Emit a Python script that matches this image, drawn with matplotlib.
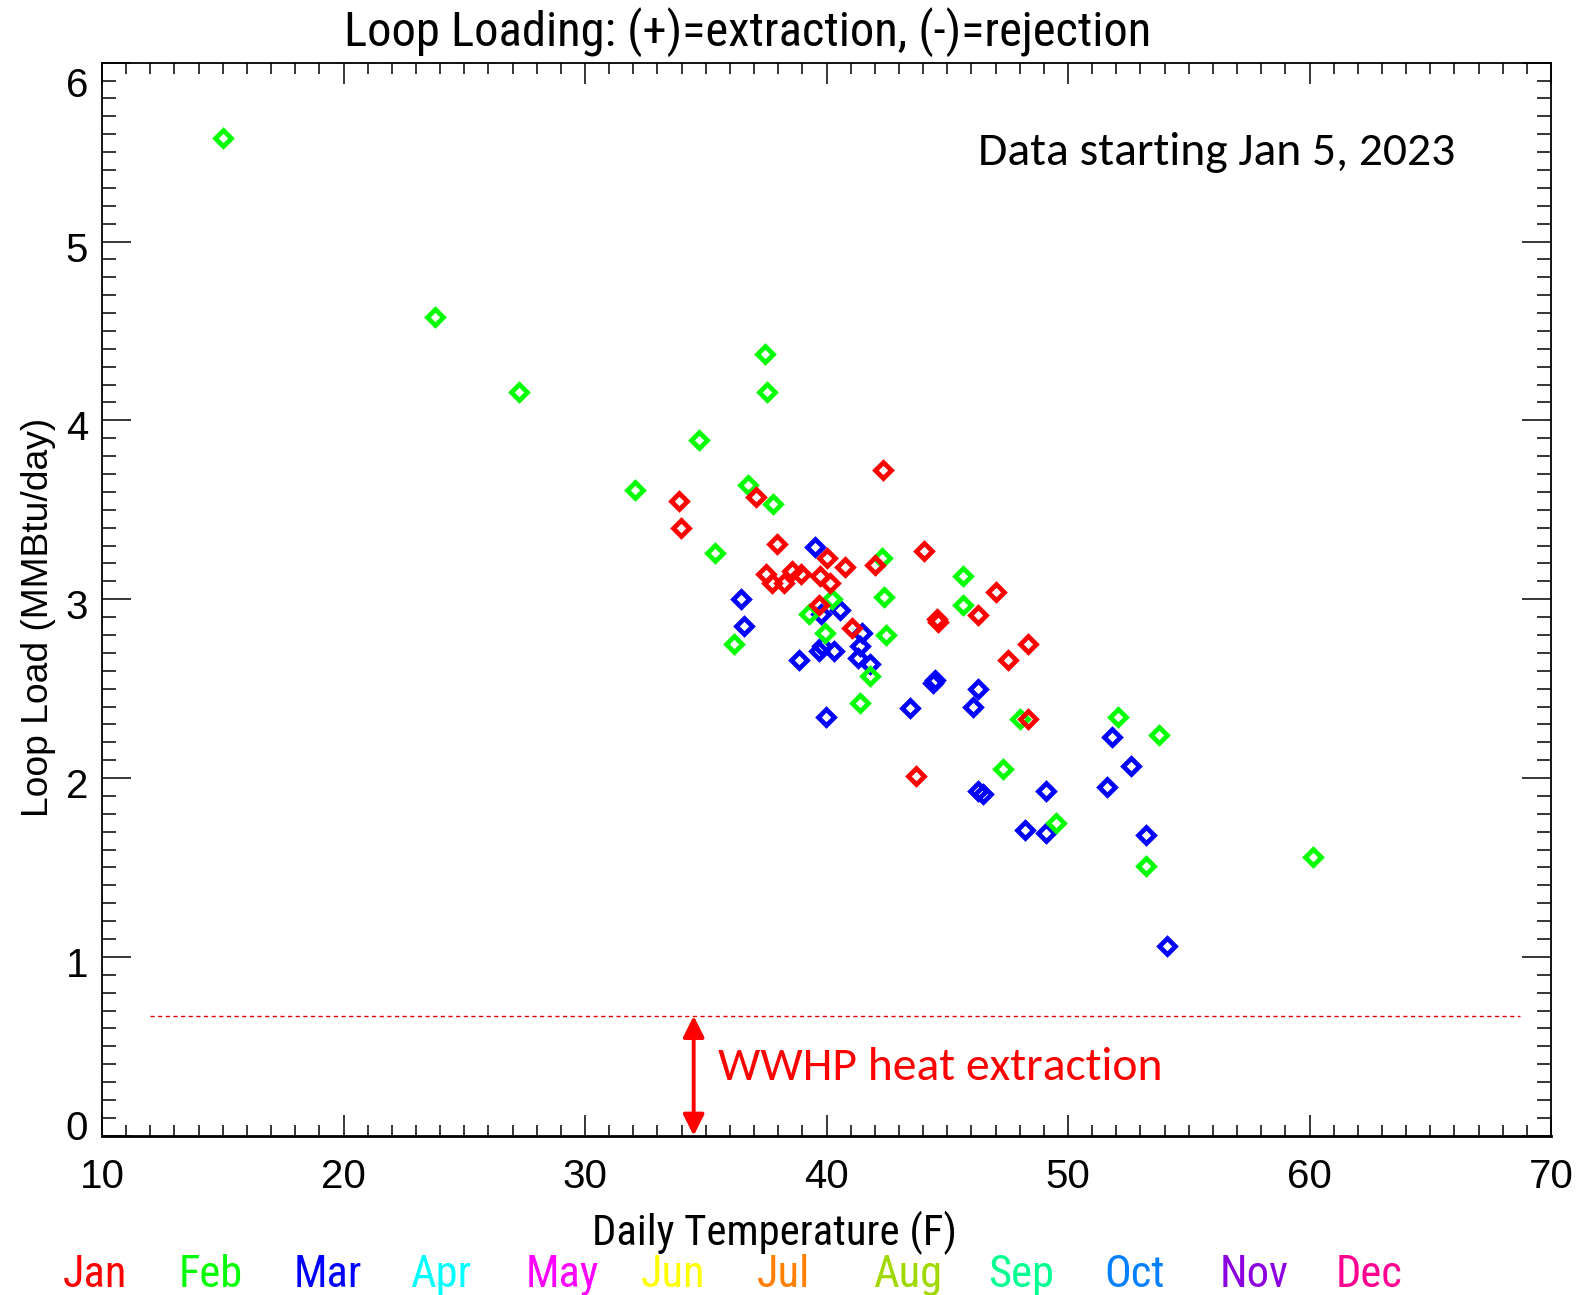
import matplotlib
matplotlib.use('Agg')
import matplotlib.pyplot as plt
from matplotlib import font_manager
from matplotlib.ticker import MultipleLocator
from matplotlib.transforms import ScaledTranslation

# ---- data (daily temperature F, loop load MMBtu/day) ----
jan_temp = [33.89, 33.97, 37.07, 37.95, 42.34, 37.49, 37.74, 38.24, 38.58, 38.95,
            39.75, 40.04, 40.13, 40.75, 39.67, 41.05, 42.01, 44.02, 44.56, 44.60,
            46.28, 47.03, 47.53, 48.33, 48.33, 43.72]
jan_load = [3.55, 3.40, 3.57, 3.31, 3.72, 3.14, 3.09, 3.09, 3.16, 3.14,
            3.13, 3.23, 3.09, 3.18, 2.97, 2.84, 3.19, 3.27, 2.89, 2.87,
            2.91, 3.04, 2.66, 2.75, 2.33, 2.01]

feb_temp = [15.02, 23.77, 27.28, 32.09, 34.73, 35.40, 36.19, 36.74, 37.45, 37.53,
            37.78, 39.29, 39.92, 40.21, 41.38, 41.80, 42.30, 42.38, 42.47, 45.65,
            45.65, 47.32, 48.03, 49.50, 52.05, 53.22, 53.77, 60.13]
feb_load = [5.58, 4.58, 4.16, 3.61, 3.89, 3.26, 2.75, 3.64, 4.37, 4.16,
            3.53, 2.92, 2.81, 3.00, 2.42, 2.57, 3.23, 3.01, 2.80, 3.13,
            2.97, 2.05, 2.33, 1.75, 2.34, 1.51, 2.24, 1.56]

mar_temp = [39.54, 36.44, 36.57, 39.79, 40.54, 38.87, 39.67, 39.83, 40.29, 39.96,
            41.46, 41.38, 41.30, 41.80, 43.47, 44.39, 44.48, 46.28, 46.07, 46.28,
            46.49, 48.20, 49.08, 49.08, 51.63, 51.84, 52.59, 53.22, 54.10]
mar_load = [3.29, 3.00, 2.85, 2.92, 2.94, 2.66, 2.71, 2.74, 2.71, 2.34,
            2.81, 2.74, 2.67, 2.64, 2.39, 2.53, 2.55, 2.50, 2.40, 1.93,
            1.91, 1.71, 1.93, 1.69, 1.95, 2.23, 2.07, 1.68, 1.06]

months = ['Jan', 'Feb', 'Mar', 'Apr', 'May', 'Jun',
          'Jul', 'Aug', 'Sep', 'Oct', 'Nov', 'Dec']
month_colors = ['#FF0000', '#00FF00', '#0000FF', '#00FFFF', '#FF00FF', '#FFFF00',
                '#FF8000', '#A0D800', '#00FF90', '#0080FF', '#8C00E0', '#FF0090']

wwhp_limit = 0.67
arrow_temp = 34.5

yticks = [0, 1, 2, 3, 4, 5, 6]
xticks = [10, 20, 30, 40, 50, 60, 70]

# ---- fonts ----
available = {f.name for f in font_manager.fontManager.ttflist}
narrow_name = None
for cand in ['Liberation Sans Narrow', 'Roboto Condensed', 'DejaVu Sans Condensed',
             'Open Sans Condensed']:
    if cand in available:
        narrow_name = cand
        break
if narrow_name:
    NARROW = [narrow_name, 'DejaVu Sans']
    title_size, xlab_size, month_size = 35, 30.8, 32
else:
    NARROW = ['Liberation Sans', 'DejaVu Sans']
    title_size, xlab_size, month_size = 31.2, 27.3, 29
SANS = ['Liberation Sans', 'DejaVu Sans']
CAL = ['Carlito', 'DejaVu Sans'] if 'Carlito' in available else ['Lato', 'DejaVu Sans']
cal_size = 34.3 if 'Carlito' in available else 35.3

W, H = 1585, 1295
fig = plt.figure(figsize=(W / 100, H / 100), dpi=100)
ax = fig.add_axes([102 / W, 1 - 1135.7 / H, 1449 / W, 1073 / H])

series = [(mar_temp, mar_load, month_colors[2]),
          (feb_temp, feb_load, month_colors[1]),
          (jan_temp, jan_load, month_colors[0])]
for t, l, c in series:
    ax.plot(t, l, ls='none', marker='D', ms=8.6, mfc='none', mec=c, mew=3.4)

ax.set_xlim(10, 70)
ax.set_ylim(0, 6)
ax.set_xticks(xticks)
ax.set_yticks(yticks)
ax.xaxis.set_minor_locator(MultipleLocator(1))
ax.yaxis.set_minor_locator(MultipleLocator(0.1))
ax.tick_params(which='both', direction='in', top=True, right=True, color='black')
ax.tick_params(axis='x', which='major', length=15, width=1.1, labelsize=29, pad=16)
ax.tick_params(axis='x', which='minor', length=8, width=1.1)
ax.tick_params(axis='y', which='major', length=21, width=1.1, labelsize=29, pad=10)
ax.tick_params(axis='y', which='minor', length=10, width=1.1)
for lab in ax.get_xticklabels() + ax.get_yticklabels():
    lab.set_family(SANS)
for sp in ax.spines.values():
    sp.set_linewidth(1.3)
ax.spines['bottom'].set_linewidth(2.0)

# shift y tick labels like the original (end labels pulled inward)
for tick, v in zip(ax.yaxis.get_major_ticks(), yticks):
    dy = -5
    if v == 0:
        dy = 11
    elif v == 6:
        dy = -19
    tick.label1.set_transform(tick.label1.get_transform() +
                              ScaledTranslation(0, dy / 100, fig.dpi_scale_trans))

# threshold line and arrow
ax.plot([12.0, 68.7], [wwhp_limit, wwhp_limit], color='#E00000', lw=1.0,
        ls=(0, (3, 2.5)))
ax.annotate('', xy=(arrow_temp, 0.0), xytext=(arrow_temp, wwhp_limit),
            arrowprops=dict(arrowstyle='<|-|>', color='#FF0000', lw=2.8,
                            mutation_scale=32, shrinkA=0, shrinkB=0))
fig.text(718 / W, 1 - 1080 / H, 'WWHP heat extraction', color='#FF0000',
         fontsize=cal_size, family=CAL, ha='left', va='baseline')
fig.text(978 / W, 1 - 165 / H, 'Data starting Jan 5, 2023', color='black',
         fontsize=cal_size, family=CAL, ha='left', va='baseline')

# titles / labels
fig.text(748 / W, 1 - 46 / H, 'Loop Loading: (+)=extraction, (-)=rejection',
         fontsize=title_size, family=NARROW, ha='center', va='baseline')
fig.text(775 / W, 1 - 1245 / H, 'Daily Temperature (F)', fontsize=xlab_size,
         family=NARROW, ha='center', va='baseline')
fig.text(39 / W, 1 - 617 / H, 'Loop Load (MMBtu/day)', fontsize=26.8,
         family=SANS, rotation=90, ha='center', va='center')

for i, (m, c) in enumerate(zip(months, month_colors)):
    fig.text((62.7 + i * 115.7) / W, 1 - 1287 / H, m, color=c, fontsize=month_size,
             family=NARROW, ha='left', va='baseline')

fig.savefig('out.png', dpi=100, facecolor='white')
